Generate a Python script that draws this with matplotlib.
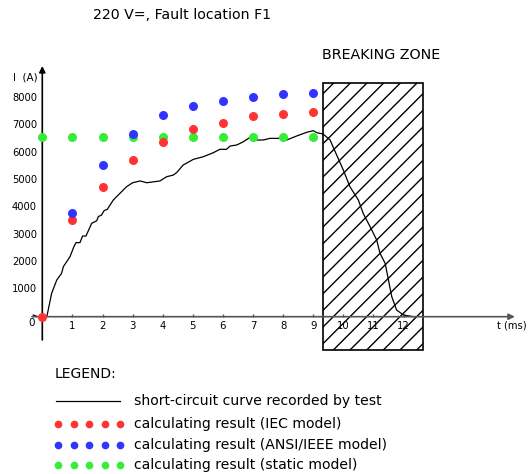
import matplotlib.pyplot as plt
from matplotlib.patches import Rectangle
from matplotlib.lines import Line2D

W, H = 528, 474

# time steps of the calculated points (ms)
t_calc = [0, 1, 2, 3, 4, 5, 6, 7, 8, 9]
i_iec = [0, 3540, 4750, 5730, 6390, 6850, 7100, 7340, 7410, 7480]
i_ansi = [None, 3780, 5560, 6690, 7380, 7690, 7900, 8020, 8150, 8180]
i_static = [6560, 6560, 6560, 6560, 6560, 6560, 6560, 6560, 6560, 6560]

# recorded short-circuit curve
t_test = [-0.3, -0.15, 0.0, 0.15, 0.31, 0.48, 0.64, 0.70, 0.92, 1.05, 1.12, 1.25,
          1.34, 1.45, 1.64, 1.81, 1.86, 1.97, 2.05, 2.16, 2.36, 2.58, 2.80, 3.0,
          3.25, 3.47, 3.91, 4.13, 4.35, 4.46, 4.68, 5.02, 5.35, 5.68, 5.90, 6.12,
          6.24, 6.46, 6.68, 6.90, 7.01, 7.34, 7.56, 7.90, 8.12, 8.45, 8.78, 9.0,
          9.12, 9.33, 9.56, 9.78, 10.0, 10.22, 10.5, 10.66, 10.89, 11.11, 11.22,
          11.39, 11.5, 11.61, 11.77, 12.0, 12.33]
i_test = [60, 0, 0, 0, 855, 1340, 1585, 1830, 2195, 2560, 2710, 2710,
          2950, 2950, 3415, 3510, 3660, 3720, 3877, 3928, 4270, 4513, 4755, 4900,
          4965, 4900, 4965, 5120, 5180, 5267, 5548, 5756, 5852, 5998, 6122, 6122,
          6243, 6280, 6400, 6560, 6463, 6463, 6523, 6523, 6463, 6609, 6743, 6804,
          6730, 6682, 6463, 5914, 5365, 4755, 4268, 3780, 3292, 2805, 2318,
          1952, 1342, 732, 245, 62, 0]

y_ticks = [1000, 2000, 3000, 4000, 5000, 6000, 7000, 8000]
x_ticks = [1, 2, 3, 4, 5, 6, 7, 8, 9, 10, 11, 12]

# pixel mapping of the drawing
x0, sx = 42.3, 30.1
y0, sy = 316.7, 0.02734

fig = plt.figure(figsize=(W / 100, H / 100), dpi=100)
ax = fig.add_axes([0, 0, 1, 1])
ax.set_xlim(-x0 / sx, (W - x0) / sx)
ax.set_ylim((y0 - H) / sy, y0 / sy)
ax.axis('off')


def px(x, y):
    return x / W, 1 - y / H


font = 'DejaVu Sans'
axcol = '#555555'

# axes with arrows
ax.annotate('', xy=(15.7, 0), xytext=(-0.34, 0),
            arrowprops=dict(arrowstyle='-|>', color=axcol, lw=1.2,
                            mutation_scale=9, shrinkA=0, shrinkB=0))
ax.annotate('', xy=(0, 9170), xytext=(0, -850),
            arrowprops=dict(arrowstyle='-|>', color='black', lw=1.2,
                            mutation_scale=9, shrinkA=0, shrinkB=0))

ax.vlines(x_ticks, 0, 110, color=axcol, lw=1)
for t in x_ticks:
    ax.text(t, -330, str(t), ha='center', va='center', fontsize=7.3, family=font)
for v in y_ticks:
    ax.text(-0.18, v, str(v), ha='right', va='center', fontsize=7.2, family=font)
ax.text(-0.35, -220, '0', ha='center', va='center', fontsize=7.5, family=font)

fig.text(*px(13, 78), 'I  (A)', ha='left', va='center', fontsize=7.5, family=font)
fig.text(*px(497, 325), 't (ms)', ha='left', va='center', fontsize=7.2, family=font)

# breaking zone
ax.add_patch(Rectangle((9.31, -1200), 3.35, 8560 + 1200, fill=False,
                       hatch='//', edgecolor='black', lw=1.2))
fig.text(*px(322, 55), 'BREAKING ZONE', ha='left', va='center', fontsize=10.3, family=font)

ax.plot(t_test, i_test, color='black', lw=0.9)

red, blue, green = '#ff3333', '#3333ff', '#33ee33'
ax.scatter(t_calc, i_static, s=30, color=green, zorder=3)
ax.scatter(t_calc, i_iec, s=30, color=red, zorder=4)
ax.scatter(t_calc[1:], i_ansi[1:], s=30, color=blue, zorder=4)

fig.text(*px(93, 15), '220 V=, Fault location F1', ha='left', va='center',
         fontsize=10.2, family=font)

# legend
fig.text(*px(55, 374), 'LEGEND:', ha='left', va='center', fontsize=10, family=font)
fig.add_artist(Line2D([56 / W, 120 / W], [1 - 401 / H, 1 - 401 / H], color='black', lw=0.9))
labels = ['short-circuit curve recorded by test',
          'calculating result (IEC model)',
          'calculating result (ANSI/IEEE model)',
          'calculating result (static model)']
rows = [401, 424, 445, 465]
for lab, y in zip(labels, rows):
    fig.text(*px(134, y), lab, ha='left', va='center', fontsize=10.1, family=font)
for col, y in zip([red, blue, green], rows[1:]):
    xs = [58 / W, 73.5 / W, 89 / W, 104.5 / W, 120 / W]
    fig.add_artist(Line2D(xs, [1 - y / H] * 5, ls='none', marker='o', ms=4.5,
                          mfc=col, mec=col))

fig.savefig('out.png', dpi=100)
